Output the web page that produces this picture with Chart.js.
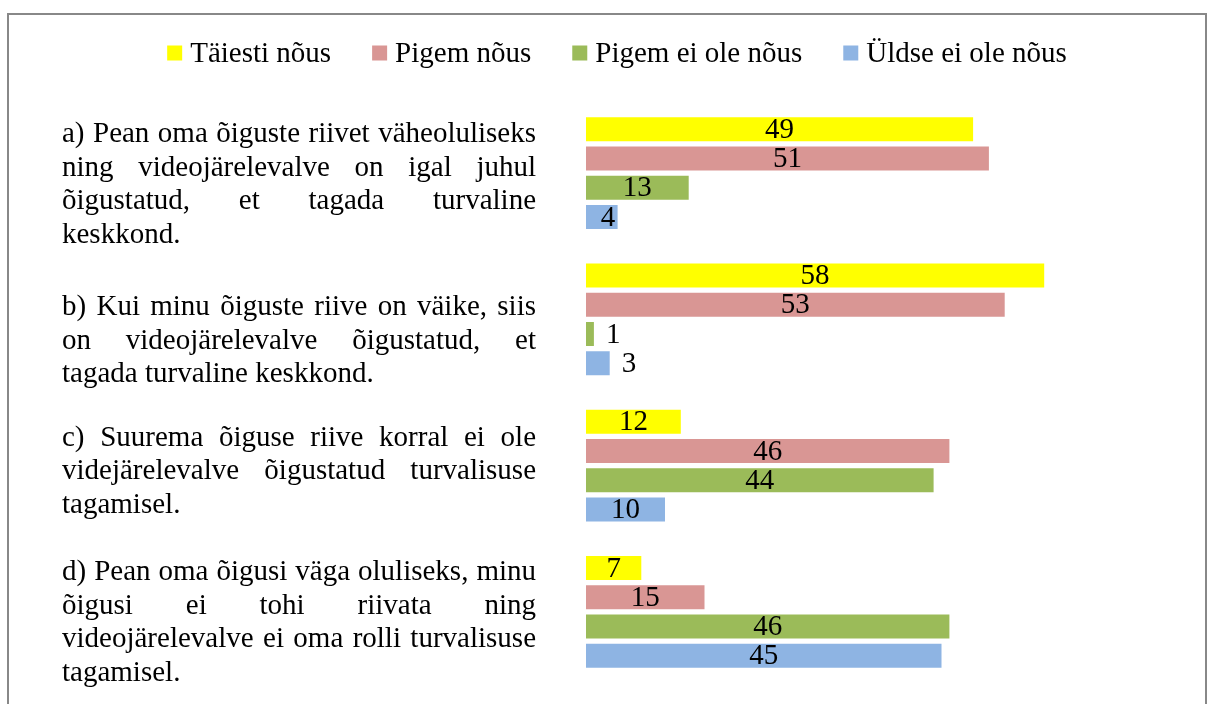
<!DOCTYPE html>
<html>
<head>
<meta charset="utf-8">
<script src="https://cdn.jsdelivr.net/npm/chart.js@4/dist/chart.umd.min.js"></script>
<style>
  html, body { margin: 0; padding: 0; background: #fff; }
  #wrap { position: relative; width: 1207px; height: 704px; overflow: hidden; }
  #frame { position: absolute; left: 7px; top: 13px; width: 1196px; height: 760px; border: 2px solid #888; }
  canvas { position: absolute; left: 0; top: 0; }
</style>
</head>
<body>
<div id="wrap">
  <div id="frame"></div>
  <canvas id="chart" width="1207" height="704"></canvas>
</div>
<script>
// andmed
const categories = ['a', 'b', 'c', 'd'];
const labelLines = [
  ['a) Pean oma õiguste riivet väheoluliseks', 'ning videojärelevalve on igal juhul', 'õigustatud, et tagada turvaline', 'keskkond.'],
  ['b) Kui minu õiguste riive on väike, siis', 'on videojärelevalve õigustatud, et', 'tagada turvaline keskkond.'],
  ['c) Suurema õiguse riive korral ei ole', 'videjärelevalve õigustatud turvalisuse', 'tagamisel.'],
  ['d) Pean oma õigusi väga oluliseks, minu', 'õigusi ei tohi riivata ning', 'videojärelevalve ei oma rolli turvalisuse', 'tagamisel.']
];
const seriesNames = ['Täiesti nõus', 'Pigem nõus', 'Pigem ei ole nõus', 'Üldse ei ole nõus'];
const taiestiNous = [49, 58, 12, 7];
const pigemNous = [51, 53, 46, 15];
const pigemEiOle = [13, 1, 44, 46];
const uldseEiOle = [4, 3, 10, 45];
const colors = ['#FFFF00', '#D99694', '#9BBB59', '#8EB4E3'];

const FONT = '29px "Liberation Serif", "Times New Roman", serif';
const textLeft = 62, textRight = 536, lineH = 33.5;
const blockShift = [12, 22, 6, 11];

// legend üleval
const legendPlugin = {
  id: 'topLegend',
  afterDraw(chart) {
    const ctx = chart.ctx;
    ctx.save();
    ctx.font = FONT;
    ctx.textBaseline = 'middle';
    ctx.textAlign = 'left';
    const box = 15, gap = 8, spacing = 41;
    const widths = seriesNames.map(n => box + gap + ctx.measureText(n).width);
    const total = widths.reduce((a, b) => a + b) + spacing * (widths.length - 1);
    let x = 617 - total / 2;
    const y = 53;
    seriesNames.forEach((n, i) => {
      ctx.fillStyle = colors[i];
      ctx.fillRect(x, y - 7.5, box, box);
      ctx.fillStyle = '#000';
      ctx.fillText(n, x + box + gap, y + 1);
      x += widths[i] + spacing;
    });
    ctx.restore();
  }
};

// vasakul rööpjoondatud tekst
const sideTextPlugin = {
  id: 'sideText',
  afterDraw(chart) {
    const ctx = chart.ctx;
    const yScale = chart.scales.y;
    ctx.save();
    ctx.font = FONT;
    ctx.fillStyle = '#000';
    ctx.textBaseline = 'middle';
    ctx.textAlign = 'left';
    labelLines.forEach((lines, i) => {
      const mid = yScale.getPixelForValue(i) + blockShift[i];
      lines.forEach((line, k) => {
        const y = mid + (k - (lines.length - 1) / 2) * lineH;
        const words = line.split(' ');
        if (k === lines.length - 1 || words.length < 2) {
          ctx.fillText(line, textLeft, y);
          return;
        }
        const ws = words.map(w => ctx.measureText(w).width);
        const space = (textRight - textLeft - ws.reduce((a, b) => a + b)) / (words.length - 1);
        let x = textLeft;
        words.forEach((w, j) => {
          ctx.fillText(w, x, y);
          x += ws[j] + space;
        });
      });
    });
    ctx.restore();
  }
};

// väärtused tulpadel
const valuePlugin = {
  id: 'values',
  afterDatasetsDraw(chart) {
    const ctx = chart.ctx;
    ctx.save();
    ctx.font = FONT;
    ctx.fillStyle = '#000';
    ctx.textBaseline = 'middle';
    chart.data.datasets.forEach((ds, di) => {
      chart.getDatasetMeta(di).data.forEach((bar, i) => {
        const txt = String(ds.data[i]);
        const tw = ctx.measureText(txt).width;
        const w = bar.x - bar.base;
        let x;
        if (tw + 12 > w) {
          ctx.textAlign = 'left';
          x = bar.x + 12;
        } else {
          ctx.textAlign = 'center';
          x = Math.max((bar.x + bar.base) / 2, bar.base + 22);
        }
        ctx.fillText(txt, x, bar.y + 1);
      });
    });
    ctx.restore();
  }
};

const seriesData = [taiestiNous, pigemNous, pigemEiOle, uldseEiOle];

new Chart(document.getElementById('chart').getContext('2d'), {
  type: 'bar',
  data: {
    labels: categories,
    datasets: seriesNames.map((n, i) => ({
      label: n,
      data: seriesData[i],
      backgroundColor: colors[i],
      borderWidth: 0,
      categoryPercentage: 0.8,
      barPercentage: 0.82
    }))
  },
  options: {
    indexAxis: 'y',
    responsive: false,
    animation: false,
    layout: { padding: { left: 586, right: 20.6, top: 100, bottom: 19 } },
    scales: {
      x: { display: false, min: 0, max: 76 },
      y: { display: false, offset: true }
    },
    plugins: {
      legend: { display: false },
      tooltip: { enabled: false }
    }
  },
  plugins: [legendPlugin, sideTextPlugin, valuePlugin]
});
</script>
</body>
</html>
